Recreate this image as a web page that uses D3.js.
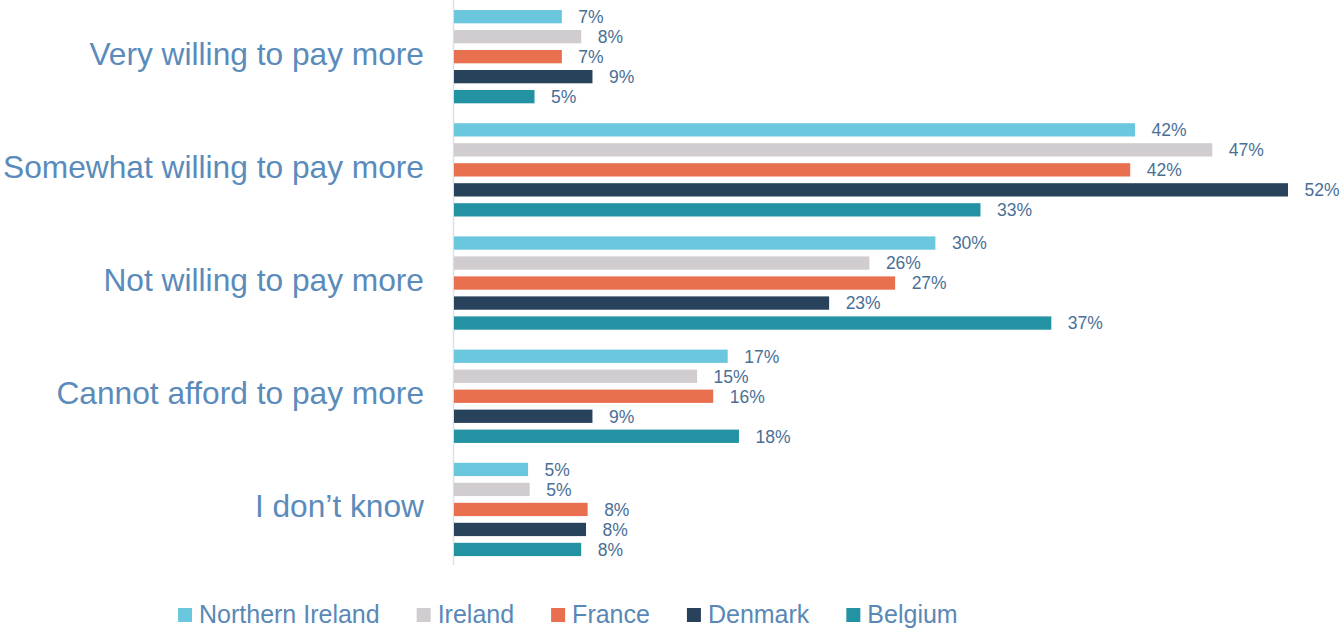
<!DOCTYPE html>
<meta charset="utf-8">
<style>

body {
  margin: 0;
  background: #fff;
}

text {
  font-family: "Liberation Sans", Arial, Helvetica, sans-serif;
}

</style>
<body>
<script src="https://cdn.jsdelivr.net/npm/d3@7"></script>
<script>

var categories = ["Very willing to pay more", "Somewhat willing to pay more", "Not willing to pay more", "Cannot afford to pay more", "I don\u2019t know"];

var series = ["Northern Ireland", "Ireland", "France", "Denmark", "Belgium"];

var northernIreland = [6.7, 42.3, 29.9, 17.0, 4.6],
    ireland = [7.9, 47.1, 25.8, 15.1, 4.7],
    france = [6.7, 42.0, 27.4, 16.1, 8.3],
    denmark = [8.6, 51.8, 23.3, 8.6, 8.2],
    belgium = [5.0, 32.7, 37.1, 17.7, 7.9];

var colors = ["#6bc7dd", "#d1cccf", "#e8704f", "#27425a", "#2392a2"];

var values = [northernIreland, ireland, france, denmark, belgium];

var width = 1341,
    height = 628;

var svg = d3.select("body").append("svg")
    .attr("width", width)
    .attr("height", height);

var x = d3.scaleLinear()
    .domain([0, 60])
    .range([454, 454 + 60 * 16.1]);

var y0 = d3.scaleBand()
    .domain(categories)
    .range([0, 566]);

var y1 = d3.scaleBand()
    .domain(series)
    .range([10, 103.3])
    .paddingInner(0.335);

var color = d3.scaleOrdinal()
    .domain(series)
    .range(colors);

var rows = [];
categories.forEach(function(c, i) {
  series.forEach(function(s, j) {
    rows.push({category: c, series: s, value: values[j][i]});
  });
});

svg.append("line")
    .attr("x1", 453.5)
    .attr("x2", 453.5)
    .attr("y1", 0)
    .attr("y2", 565)
    .attr("stroke", "#d9e1ea")
    .attr("stroke-width", 1.5);

svg.append("g").selectAll("rect")
    .data(rows)
  .enter().append("rect")
    .attr("x", x(0))
    .attr("y", function(d) { return y0(d.category) + y1(d.series); })
    .attr("width", function(d) { return x(d.value) - x(0); })
    .attr("height", y1.bandwidth())
    .attr("fill", function(d) { return color(d.series); });

svg.append("g").selectAll("text")
    .data(rows)
  .enter().append("text")
    .attr("x", function(d) { return x(d.value) + 16.5; })
    .attr("y", function(d) { return y0(d.category) + y1(d.series) + y1.bandwidth() / 2; })
    .attr("dy", "0.36em")
    .attr("font-size", "17.5px")
    .attr("fill", "#4a6f96")
    .text(function(d) { return Math.round(d.value) + "%"; });

svg.append("g").selectAll("text")
    .data(categories)
  .enter().append("text")
    .attr("x", 424)
    .attr("y", function(d) { return y0(d) + 56.7; })
    .attr("dy", "0.25em")
    .attr("text-anchor", "end")
    .attr("font-size", "31.7px")
    .attr("fill", "#5a8bba")
    .text(function(d) { return d; });

var legend = svg.append("g").selectAll("g")
    .data(series)
  .enter().append("g");

legend.append("rect")
    .attr("x", 0)
    .attr("y", 608)
    .attr("width", 14)
    .attr("height", 14)
    .attr("fill", function(d) { return color(d); });

legend.append("text")
    .attr("x", 21)
    .attr("y", 623)
    .attr("font-size", "25px")
    .attr("fill", "#5a88b6")
    .text(function(d) { return d; });

// lay legend items out left to right from their text widths
var lx = 178;
legend.each(function() {
  var g = d3.select(this);
  g.attr("transform", "translate(" + lx + ",0)");
  lx += 21 + g.select("text").node().getComputedTextLength() + 37;
});

</script>
